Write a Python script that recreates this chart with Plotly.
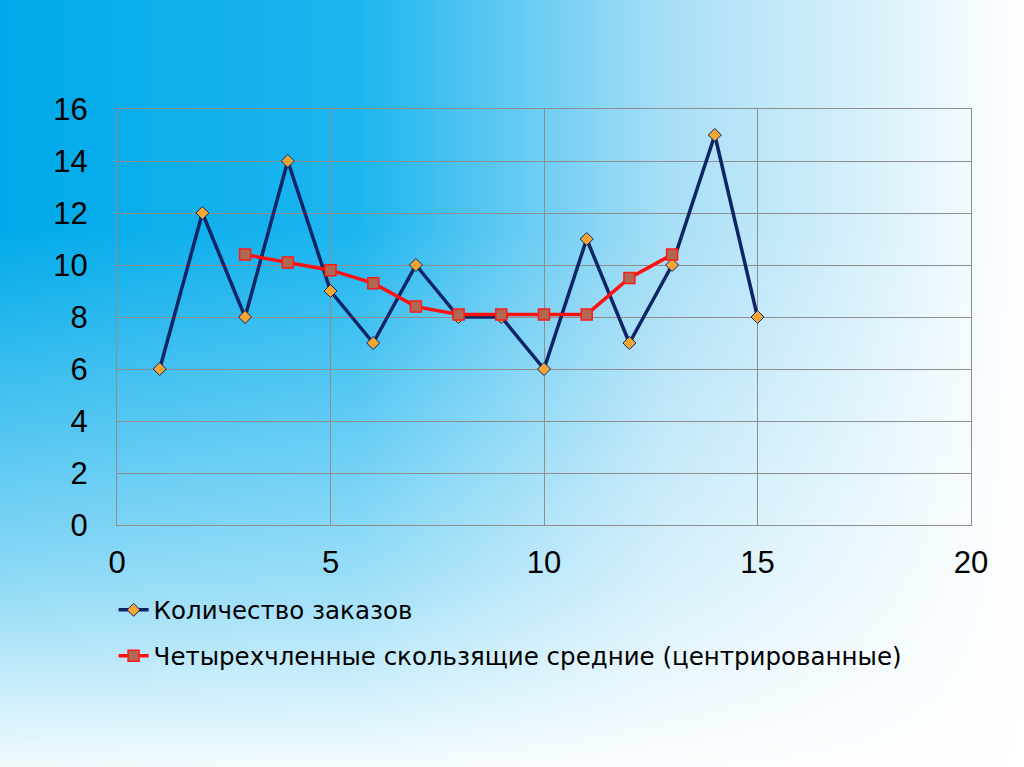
import base64
import plotly.graph_objects as go

# Data
x_orders = [1, 2, 3, 4, 5, 6, 7, 8, 9, 10, 11, 12, 13, 14, 15]
y_orders = [6, 12, 8, 14, 9, 7, 10, 8, 8, 6, 11, 7, 10, 15, 8]
x_ma = [3, 4, 5, 6, 7, 8, 9, 10, 11, 12, 13]
y_ma = [10.4, 10.1, 9.8, 9.3, 8.4, 8.1, 8.1, 8.1, 8.1, 9.5, 10.4]
name_orders = "Количество заказов"
name_ma = "Четырехчленные скользящие средние (центрированные)"
x_ticks = [0, 5, 10, 15, 20]
y_ticks = [0, 2, 4, 6, 8, 10, 12, 14, 16]

W, H = 1024, 767
L, R, T, B = 117, 53, 109, 242
pw, ph = W - L - R, H - T - B

svg = f'''<svg xmlns="http://www.w3.org/2000/svg" width="{W}" height="{H}" viewBox="0 0 {W} {H}" preserveAspectRatio="none">
<defs>
<linearGradient id="h" x1="0" y1="0" x2="1" y2="0">
<stop offset="0" stop-color="#00aaea"/>
<stop offset="0.35" stop-color="#1db5ef"/>
<stop offset="0.65" stop-color="#a6def6"/>
<stop offset="1" stop-color="#ffffff"/>
</linearGradient>
<linearGradient id="v" x1="0" y1="0" x2="0" y2="1">
<stop offset="0" stop-color="#ffffff" stop-opacity="0"/>
<stop offset="0.3" stop-color="#ffffff" stop-opacity="0"/>
<stop offset="0.75" stop-color="#ffffff" stop-opacity="0.55"/>
<stop offset="1" stop-color="#ffffff" stop-opacity="0.95"/>
</linearGradient>
</defs>
<rect width="{W}" height="{H}" fill="url(#h)"/>
<rect width="{W}" height="{H}" fill="url(#v)"/>
</svg>'''
src = "data:image/svg+xml;base64," + base64.b64encode(svg.encode()).decode()

fig = go.Figure()
fig.add_trace(go.Scatter(
    x=x_orders, y=y_orders, mode="lines+markers", name=name_orders,
    legendgroup="a",
    line=dict(color="#0d2466", width=3.5),
    marker=dict(symbol="diamond", size=10, color="#f4a534",
                line=dict(color="#0d2466", width=1)),
))
fig.add_trace(go.Scatter(
    x=x_ma, y=y_ma, mode="lines+markers", name=name_ma,
    legendgroup="b",
    line=dict(color="#ff1010", width=3.5),
    marker=dict(symbol="square", size=11, color="#b06850",
                line=dict(color="#ff1a1a", width=1.5)),
))

tick_family = "Liberation Sans, Arial, sans-serif"
legend_family = "DejaVu Sans, Liberation Sans, sans-serif"
fig.update_layout(
    width=W, height=H,
    margin=dict(l=L, r=R, t=T, b=B, pad=0),
    paper_bgcolor="#ffffff",
    plot_bgcolor="rgba(0,0,0,0)",
    images=[dict(source=src, xref="paper", yref="paper",
                 x=-L / pw, y=1 + T / ph, sizex=W / pw, sizey=H / ph,
                 xanchor="left", yanchor="top", sizing="stretch",
                 layer="below")],
    showlegend=True,
    legend=dict(x=-0.004, y=-0.15, xanchor="left", yanchor="top",
                bgcolor="rgba(0,0,0,0)",
                font=dict(family=legend_family, size=24.5, color="#000000"),
                tracegroupgap=11, itemwidth=30),
    font=dict(family=tick_family, color="#000000"),
)
fig.update_xaxes(
    range=[0, 20], tickvals=x_ticks, ticktext=[str(v) for v in x_ticks],
    showgrid=True, gridcolor="#8e8e8e", gridwidth=1,
    showline=True, linecolor="#8e8e8e", linewidth=1, mirror=True,
    zeroline=False, ticks="", tickfont=dict(size=31, family=tick_family),
    ticklabelstandoff=10,
)
fig.update_yaxes(
    range=[0, 16], tickvals=y_ticks, ticktext=[str(v) for v in y_ticks],
    showgrid=True, gridcolor="#8e8e8e", gridwidth=1,
    showline=True, linecolor="#8e8e8e", linewidth=1, mirror=True,
    zeroline=False, ticks="", tickfont=dict(size=31, family=tick_family),
    ticklabelstandoff=22,
)
fig.write_html("out.html", config={"displayModeBar": False},
               post_script="document.body.style.margin='0';document.body.style.overflow='hidden';")
